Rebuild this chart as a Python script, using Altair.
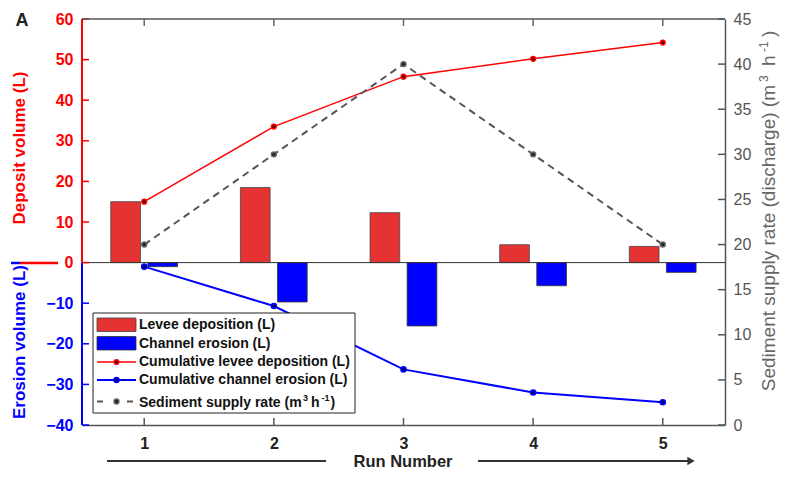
import altair as alt
import pandas as pd

# ---------------- data ----------------
runs = [1, 2, 3, 4, 5]
levee_deposition = [15.0, 18.5, 12.3, 4.4, 4.0]
channel_erosion = [-1.0, -9.7, -15.6, -5.7, -2.4]
cum_levee = [15.0, 33.5, 45.8, 50.2, 54.2]
cum_erosion = [-1.0, -10.7, -26.3, -32.0, -34.4]
supply_rate = [20, 30, 40, 30, 20]

left_ticks = [-40, -30, -20, -10, 0, 10, 20, 30, 40, 50, 60]
right_ticks = [0, 5, 10, 15, 20, 25, 30, 35, 40, 45]
x_ticks = [1, 2, 3, 4, 5]

legend_labels = [
    "Levee deposition (L)",
    "Channel erosion (L)",
    "Cumulative levee deposition (L)",
    "Cumulative channel erosion (L)",
]
supply_label = ["Sediment supply rate (m", "3", "h", "-1", ")"]
right_title = ["Sediment supply rate (discharge) (m", "3", "h", "-1", ")"]

W, H = 643, 406
FONT = "Liberation Sans"
RED = "#FF0000"
BLUE = "#0000FF"
GRAY = "#555555"

df = pd.DataFrame({
    "run": runs,
    "levee": levee_deposition,
    "erosion": channel_erosion,
    "cum_levee": cum_levee,
    "cum_ero": cum_erosion,
    "supply": supply_rate,
})
ltick_df = pd.DataFrame({"v": left_ticks})
rtick_df = pd.DataFrame({"v": right_ticks})
xtick_df = pd.DataFrame({"v": x_ticks})
one = alt.Data(values=[{"a": 1}])

x_scale = alt.Scale(domain=[0.52, 5.48], nice=False, zero=False)
yl_scale = alt.Scale(domain=[-40, 60], nice=False, zero=False)
yr_scale = alt.Scale(domain=[0, 45], nice=False, zero=False)

x_axis = alt.Axis(values=x_ticks, title=None, ticks=False, grid=False,
                  domainColor="#555", domainWidth=1.5, labelFont=FONT,
                  labelFontSize=16, labelFontWeight="bold", labelColor="#222",
                  labelPadding=10, format="d")
yl_axis = alt.Axis(values=left_ticks, title=None, ticks=False, grid=False,
                   domain=False, labelFont=FONT, labelFontSize=16,
                   labelFontWeight="bold",
                   labelColor={"condition": {"test": "datum.value < 0", "value": BLUE},
                               "value": RED},
                   labelPadding=9)
yr_axis = alt.Axis(orient="right", values=right_ticks, title=None, ticks=False,
                   grid=False, domainColor=GRAY, domainWidth=1.5, labelFont=FONT,
                   labelFontSize=16, labelColor="#555", labelPadding=8)


def X(field):
    return alt.X(field, scale=x_scale, axis=x_axis)


def YL(field):
    return alt.Y(field, scale=yl_scale, axis=yl_axis)


def YR(field):
    return alt.Y(field, scale=yr_scale, axis=yr_axis)


base = alt.Chart(df)

red_bars = base.transform_calculate(
    x0="datum.run - 0.258", x1="datum.run - 0.029"
).mark_rect(fill="#E53333", stroke="#444", strokeWidth=0.8).encode(
    x=X("x0:Q"), x2="x1:Q", y=YL("levee:Q"), y2=alt.datum(0)
)
blue_bars = base.transform_calculate(
    x0="datum.run + 0.028", x1="datum.run + 0.257"
).mark_rect(fill=BLUE, stroke="#333", strokeWidth=0.8).encode(
    x=X("x0:Q"), x2="x1:Q", y=YL("erosion:Q"), y2=alt.datum(0)
)

zero_line = alt.Chart(one).mark_rule(color="#333", strokeWidth=1).encode(
    x=alt.value(0), x2=alt.value(W), y=alt.datum(0)
)
left_dom_red = alt.Chart(one).mark_rule(color=RED, strokeWidth=2).encode(
    x=alt.value(0), y=alt.datum(0), y2=alt.datum(60)
)
left_dom_blue = alt.Chart(one).mark_rule(color=BLUE, strokeWidth=2).encode(
    x=alt.value(0), y=alt.datum(-40), y2=alt.datum(0)
)
left_tick_marks = alt.Chart(ltick_df).mark_rule(strokeWidth=1.5).encode(
    x=alt.value(0), x2=alt.value(7), y=YL("v:Q"),
    color=alt.condition("datum.v < 0", alt.value(BLUE), alt.value(RED)),
)
bottom_tick_marks = alt.Chart(xtick_df).mark_rule(color="#555", strokeWidth=1.5).encode(
    x=X("v:Q"), y=alt.value(H - 7), y2=alt.value(H)
)
top_tick_marks = alt.Chart(xtick_df).mark_rule(color="#666", strokeWidth=1.5).encode(
    x=X("v:Q"), y=alt.value(0), y2=alt.value(7)
)

red_line = base.mark_line(color=RED, strokeWidth=1.5).encode(x=X("run:Q"), y=YL("cum_levee:Q"))
blue_line = base.mark_line(color=BLUE, strokeWidth=2).encode(x=X("run:Q"), y=YL("cum_ero:Q"))
red_pts = base.mark_circle(size=22, fill="#5a0000", stroke=RED, strokeWidth=1.5, opacity=1).encode(
    x=X("run:Q"), y=YL("cum_levee:Q"))
blue_pts = base.mark_circle(size=26, fill="#000070", stroke=BLUE, strokeWidth=1.5, opacity=1).encode(
    x=X("run:Q"), y=YL("cum_ero:Q"))

left = alt.layer(red_bars, blue_bars, zero_line, left_dom_red, left_dom_blue,
                 left_tick_marks, bottom_tick_marks, top_tick_marks,
                 red_line, blue_line, red_pts, blue_pts)

gray_line = base.mark_line(color=GRAY, strokeWidth=2, strokeDash=[7, 5]).encode(
    x=X("run:Q"), y=YR("supply:Q"))
gray_pts = base.mark_circle(size=24, fill="#222", stroke="#666", strokeWidth=1.5, opacity=1).encode(
    x=X("run:Q"), y=YR("supply:Q"))
right_tick_marks = alt.Chart(rtick_df).mark_rule(color=GRAY, strokeWidth=1.5).encode(
    x=alt.value(W - 7), x2=alt.value(W), y=YR("v:Q"))

right = alt.layer(gray_line, gray_pts, right_tick_marks)


# ---------------- decorations (titles, legend, arrow) ----------------
def text(t, x, y, size, color="#111", weight="bold", angle=0, align="left", baseline="middle"):
    return alt.Chart(one).mark_text(
        text=t, font=FONT, fontSize=size, fontWeight=weight, color=color,
        angle=angle, align=align, baseline=baseline
    ).encode(x=alt.value(x), y=alt.value(y))


def rule(x1, x2, y1, y2, color, width, dash=None):
    kw = dict(color=color, strokeWidth=width)
    if dash:
        kw["strokeDash"] = dash
    return alt.Chart(one).mark_rule(**kw).encode(
        x=alt.value(x1), x2=alt.value(x2), y=alt.value(y1), y2=alt.value(y2))


def dot(x, y, size, fill, stroke):
    return alt.Chart(one).mark_circle(size=size, fill=fill, stroke=stroke,
                                      strokeWidth=1.5, opacity=1).encode(
        x=alt.value(x), y=alt.value(y))


RT_COLOR = "#666"
RTX = 693       # baseline of the rotated right title
deco = [
    rule(0, W, 0, 0, "#555", 1.5),
    text("A", -60, 2, 18, color="#222", align="center"),
    text("Deposit volume (L)", -62, 129, 17, color=RED, angle=270, align="center"),
    text("Erosion volume (L)", -62, 323, 17, color=BLUE, angle=270, align="center"),
    rule(-71, -62, 244, 244, BLUE, 2.5),
    rule(-62, -24, 244, 244, RED, 2.5),
    # right title, read bottom-to-top, with raised exponents
    text(right_title[0], RTX, 66, 19, color=RT_COLOR, weight="normal", angle=270,
         align="right", baseline="alphabetic"),
    text(right_title[1], RTX - 7, 63, 12, color=RT_COLOR, weight="normal", angle=270,
         align="left", baseline="alphabetic"),
    text(right_title[2], RTX, 47, 19, color=RT_COLOR, weight="normal", angle=270,
         align="left", baseline="alphabetic"),
    text(right_title[3], RTX - 7, 33, 12, color=RT_COLOR, weight="normal", angle=270,
         align="left", baseline="alphabetic"),
    text(right_title[4], RTX, 18, 19, color=RT_COLOR, weight="normal", angle=270,
         align="left", baseline="alphabetic"),
    # x title with arrow
    text("Run Number", 321, 447.5, 16.5, color="#222", align="center", baseline="alphabetic"),
    rule(25, 244, 442, 442, "#333", 2),
    rule(396, 608, 442, 442, "#333", 2),
    alt.Chart(one).mark_point(shape="triangle-right", filled=True, size=70,
                              color="#333", opacity=1).encode(
        x=alt.value(609), y=alt.value(442)),
]

# legend
LEG_Y = [306, 324.5, 343, 361, 382.5]
legend = [
    alt.Chart(one).mark_rect(fill="white", stroke="#222", strokeWidth=1).encode(
        x=alt.value(11), x2=alt.value(273), y=alt.value(294), y2=alt.value(394)),
    alt.Chart(one).mark_rect(fill="#E53333", stroke="#444", strokeWidth=0.8).encode(
        x=alt.value(15), x2=alt.value(54), y=alt.value(LEG_Y[0] - 7), y2=alt.value(LEG_Y[0] + 6.5)),
    alt.Chart(one).mark_rect(fill=BLUE, stroke="#333", strokeWidth=0.8).encode(
        x=alt.value(15), x2=alt.value(54), y=alt.value(LEG_Y[1] - 7), y2=alt.value(LEG_Y[1] + 6.5)),
    rule(15, 54, LEG_Y[2], LEG_Y[2], RED, 1.5),
    dot(34.5, LEG_Y[2], 22, "#5a0000", RED),
    rule(15, 54, LEG_Y[3], LEG_Y[3], BLUE, 2),
    dot(34.5, LEG_Y[3], 26, "#000070", BLUE),
    rule(15, 54, LEG_Y[4], LEG_Y[4], GRAY, 2, dash=[6, 24]),
    dot(34.5, LEG_Y[4], 24, "#222", "#666"),
]
for lab, yy in zip(legend_labels, LEG_Y[:4]):
    legend.append(text(lab, 57, yy, 14, color="#111"))
# last legend entry with raised exponents
yb = LEG_Y[4] + 5
legend += [
    text(supply_label[0], 57, yb, 14, color="#111", baseline="alphabetic"),
    text(supply_label[1], 221, yb - 6, 9, color="#111", baseline="alphabetic"),
    text(supply_label[2], 229, yb, 14, color="#111", baseline="alphabetic"),
    text(supply_label[3], 239.5, yb - 6, 9, color="#111", baseline="alphabetic"),
    text(supply_label[4], 248.5, yb, 14, color="#111", baseline="alphabetic"),
]

chart = alt.layer(left, right, *deco, *legend).resolve_scale(
    y="independent"
).properties(
    width=W, height=H,
    padding={"left": 74, "top": 11, "right": 55, "bottom": 45},
    autosize=alt.AutoSizeParams(type="none"),
    background="white",
).configure_view(stroke=None)

chart.save("out.html", embed_options={"renderer": "svg", "actions": False})
